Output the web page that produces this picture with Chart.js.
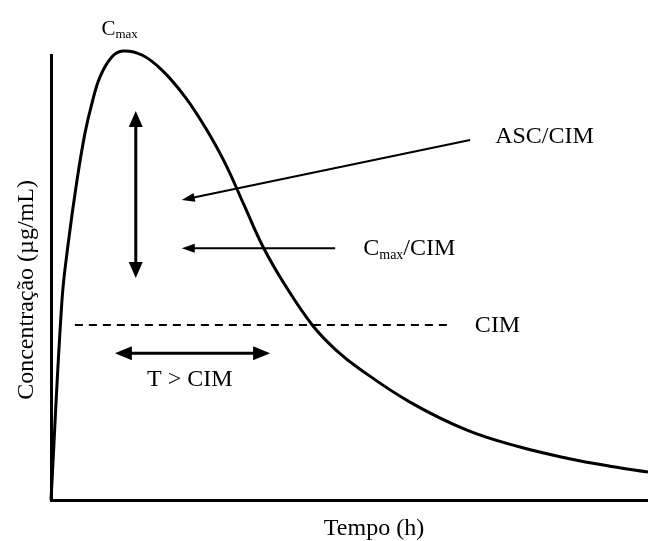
<!DOCTYPE html>
<html>
<head>
<meta charset="utf-8">
<script src="https://cdn.jsdelivr.net/npm/chart.js@4/dist/chart.umd.min.js"></script>
<style>
  html, body { margin: 0; padding: 0; background: #fff; }
  #wrap { width: 648px; height: 541px; }
</style>
</head>
<body>
<div id="wrap"><canvas id="pkChart"></canvas></div>
<script>
// curva de concentração x tempo (unidades relativas, 0-100)
const tempo = [0, 1.84, 2.85, 4.36, 5.70, 6.87, 8.21, 10.22, 12.06, 15.24, 18.59, 22.45, 25.80,
               29.15, 32.33, 35.51, 39.20, 43.89, 47.74, 51.76, 60.13, 69.68, 78.56, 86.43, 93.63, 100];
const concentracao = [0, 44.9, 57.3, 71.9, 82.5, 89.2, 95.1, 99.6, 100.9, 100.0, 96.6, 90.6, 83.8,
                      75.7, 66.3, 56.9, 48.3, 39.1, 33.7, 29.4, 22.0, 15.7, 11.9, 9.4, 7.6, 6.3];

// nível da CIM (linha tracejada) e seu intervalo em x
const cimNivel = 39.3;
const cimIntervalo = [4.0, 67.3];

// setas: [x, y] início -> fim
const setaVertical = [[14.2, 87.4], [14.2, 49.9]];     // dupla
const setaTempo = [[10.7, 33.0], [36.7, 33.0]];        // dupla
const setaASC = [[70.2, 80.9], [21.9, 67.4]];
const setaCmax = [[47.6, 56.6], [21.9, 56.6]];

// rótulos (posição da linha de base)
const rotuloCmax = [11.5, 104.5];
const rotuloASC = [74.4, 80.3];
const rotuloCmaxCIM = [52.3, 55.1];
const rotuloCIM = [71.0, 37.8];
const rotuloTempoCIM = [16.1, 25.6];
const tituloX = ['Tempo (h)', 54.1, -7.9];
const tituloY = ['Concentração (µg/mL)', -3.0, 47.2];

const FONTE = '"Liberation Serif", "Times New Roman", serif';

function ponta(ctx, x1, y1, x2, y2, comp, meia) {
    const ang = Math.atan2(y2 - y1, x2 - x1);
    ctx.save();
    ctx.translate(x2, y2);
    ctx.rotate(ang);
    ctx.beginPath();
    ctx.moveTo(0, 0);
    ctx.lineTo(-comp, -meia);
    ctx.lineTo(-comp, meia);
    ctx.closePath();
    ctx.fill();
    ctx.restore();
}

function seta(ctx, xs, ys, p, largura, comp, meia, dupla) {
    const x1 = xs.getPixelForValue(p[0][0]), y1 = ys.getPixelForValue(p[0][1]);
    const x2 = xs.getPixelForValue(p[1][0]), y2 = ys.getPixelForValue(p[1][1]);
    const ang = Math.atan2(y2 - y1, x2 - x1);
    const dx = Math.cos(ang) * (comp - 2), dy = Math.sin(ang) * (comp - 2);
    ctx.lineWidth = largura;
    ctx.beginPath();
    ctx.moveTo(dupla ? x1 + dx : x1, dupla ? y1 + dy : y1);
    ctx.lineTo(x2 - dx, y2 - dy);
    ctx.stroke();
    ponta(ctx, x1, y1, x2, y2, comp, meia);
    if (dupla) ponta(ctx, x2, y2, x1, y1, comp, meia);
}

// texto com subscrito: partes = [[texto, tamanho, deslocamento]]
function texto(ctx, partes, x, y, centro) {
    let total = 0;
    partes.forEach(p => { ctx.font = p[1] + 'px ' + FONTE; total += ctx.measureText(p[0]).width; });
    let cx = centro ? x - total / 2 : x;
    partes.forEach(p => {
        ctx.font = p[1] + 'px ' + FONTE;
        ctx.fillText(p[0], cx, y + (p[2] || 0));
        cx += ctx.measureText(p[0]).width;
    });
}

const anotacoes = {
    id: 'anotacoes',
    afterDatasetsDraw(chart) {
        const ctx = chart.ctx;
        const xs = chart.scales.x, ys = chart.scales.y;
        ctx.save();
        ctx.strokeStyle = '#000';
        ctx.fillStyle = '#000';

        // linha tracejada CIM
        ctx.lineWidth = 2;
        ctx.setLineDash([8, 6]);
        ctx.beginPath();
        ctx.moveTo(xs.getPixelForValue(cimIntervalo[0]), ys.getPixelForValue(cimNivel));
        ctx.lineTo(xs.getPixelForValue(cimIntervalo[1]), ys.getPixelForValue(cimNivel));
        ctx.stroke();
        ctx.setLineDash([]);

        seta(ctx, xs, ys, setaVertical, 3, 16, 7, true);
        seta(ctx, xs, ys, setaTempo, 3, 17, 7, true);
        seta(ctx, xs, ys, setaASC, 2, 13, 4.5, false);
        seta(ctx, xs, ys, setaCmax, 2, 13, 4.5, false);

        ctx.textBaseline = 'alphabetic';
        ctx.textAlign = 'left';
        const px = v => xs.getPixelForValue(v[0]), py = v => ys.getPixelForValue(v[1]);
        texto(ctx, [['C', 21], ['max', 13, 3]], px(rotuloCmax), py(rotuloCmax), true);
        texto(ctx, [['ASC/CIM', 24]], px(rotuloASC), py(rotuloASC), false);
        texto(ctx, [['C', 24], ['max', 14, 4], ['/CIM', 24]], px(rotuloCmaxCIM), py(rotuloCmaxCIM), false);
        texto(ctx, [['CIM', 24]], px(rotuloCIM), py(rotuloCIM), false);
        texto(ctx, [['T > CIM', 24]], px(rotuloTempoCIM), py(rotuloTempoCIM), false);

        // títulos dos eixos
        texto(ctx, [[tituloX[0], 24]], xs.getPixelForValue(tituloX[1]), ys.getPixelForValue(tituloX[2]), true);
        ctx.translate(xs.getPixelForValue(tituloY[1]), ys.getPixelForValue(tituloY[2]));
        ctx.rotate(-Math.PI / 2);
        texto(ctx, [[tituloY[0], 24]], 0, 0, true);
        ctx.restore();
    }
};

const ctx = document.getElementById('pkChart').getContext('2d');
const grafico = new Chart(ctx, {
    type: 'line',
    data: {
        datasets: [{
            data: tempo.map((t, i) => ({ x: t, y: concentracao[i] })),
            borderColor: '#000',
            borderWidth: 3,
            pointRadius: 0,
            fill: false,
            clip: false,
            tension: 0.4
        }]
    },
    options: {
        responsive: true,
        maintainAspectRatio: false,
        animation: false,
        layout: { padding: { left: 51, top: 55, right: 0, bottom: 41 } },
        plugins: { legend: { display: false }, tooltip: { enabled: false } },
        scales: {
            x: {
                type: 'linear', min: 0, max: 100,
                ticks: { display: false },
                grid: { display: false, drawTicks: false },
                border: { color: '#000', width: 3 }
            },
            y: {
                min: 0, max: 100,
                ticks: { display: false },
                grid: { display: false, drawTicks: false },
                border: { color: '#000', width: 3 }
            }
        }
    },
    plugins: [anotacoes]
});
</script>
</body>
</html>
